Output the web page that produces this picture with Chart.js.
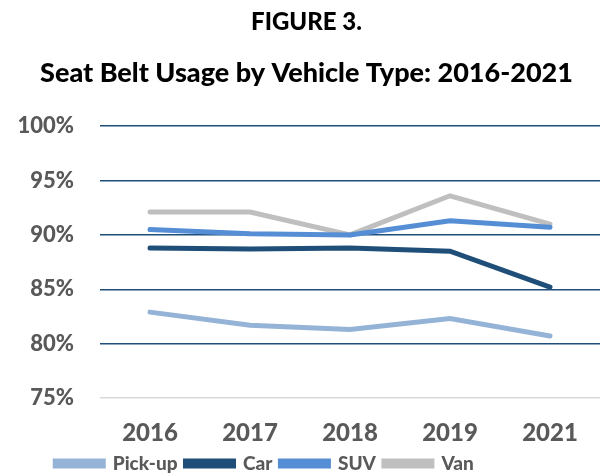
<!DOCTYPE html>
<html>
<head>
<meta charset="utf-8">
<script src="https://cdn.jsdelivr.net/npm/chart.js@4"></script>
<style>
  html, body { margin: 0; padding: 0; background: #fff; overflow: hidden; }
  #wrap { width: 602px; height: 483px; }
</style>
</head>
<body>
<div id="wrap"><canvas id="myChart"></canvas></div>
<script>
// categories and series
const years = ['2016', '2017', '2018', '2019', '2021'];
const pickup = [82.9, 81.7, 81.3, 82.3, 80.7];
const car = [88.8, 88.7, 88.8, 88.5, 85.2];
const suv = [90.5, 90.1, 90.0, 91.3, 90.7];
const van = [92.1, 92.1, 90.0, 93.6, 91.0];

const FONT = 'Lato, "Open Sans", sans-serif';

function series(label, values, color) {
    return {
        label: label,
        data: values,
        borderColor: color,
        backgroundColor: color,
        borderWidth: 5,
        pointRadius: 0,
        tension: 0,
        borderCapStyle: 'round'
    };
}

const data = {
    labels: years,
    datasets: [
        series('Pick-up', pickup, '#95b3d7'),
        series('Car', car, '#1f4e79'),
        series('SUV', suv, '#558ed5'),
        series('Van', van, '#bfbfbf')
    ]
};

// the legend in the original sits left of centre
const legendShift = {
    id: 'legendShift',
    afterLayout(chart) {
        if (chart.legend) chart.legend.right -= 84;
    }
};

const config = {
    type: 'line',
    data: data,
    plugins: [legendShift],
    options: {
        responsive: true,
        maintainAspectRatio: false,
        animation: false,
        layout: { padding: { left: 13, right: 2, top: 8, bottom: 0 } },
        scales: {
            x: {
                offset: true,
                grid: { display: false, drawTicks: false },
                border: { display: false },
                afterFit: (s) => { s.height = 48; },
                ticks: {
                    color: '#595959',
                    maxRotation: 0,
                    font: { family: FONT, size: 24, weight: 900 },
                    padding: 21
                }
            },
            y: {
                min: 75,
                max: 100,
                border: { display: false },
                afterFit: (s) => { s.width = 87; },
                grid: {
                    color: (c) => c.tick && c.tick.value === 75 ? '#d9d9d9' : '#1f4e79',
                    lineWidth: 1.5,
                    drawTicks: false
                },
                ticks: {
                    stepSize: 5,
                    color: '#595959',
                    padding: 26,
                    font: { family: FONT, size: 22, weight: 900 },
                    callback: (v) => v + '%'
                }
            }
        },
        plugins: {
            title: {
                display: true,
                text: 'FIGURE 3.',
                color: '#000',
                font: { family: FONT, size: 24, weight: 900 },
                padding: { top: 0, bottom: 20 }
            },
            subtitle: {
                display: true,
                text: 'Seat Belt Usage by Vehicle Type: 2016-2021',
                color: '#000',
                font: { family: FONT, size: 27, weight: 900 },
                padding: { top: 0, bottom: 37 }
            },
            legend: {
                position: 'bottom',
                labels: {
                    boxWidth: 48,
                    boxHeight: 5,
                    padding: 8,
                    color: '#595959',
                    font: { family: FONT, size: 19, weight: 900 }
                }
            },
            tooltip: { enabled: false }
        }
    }
};

const ctx = document.getElementById('myChart').getContext('2d');
const myChart = new Chart(ctx, config);
</script>
</body>
</html>
